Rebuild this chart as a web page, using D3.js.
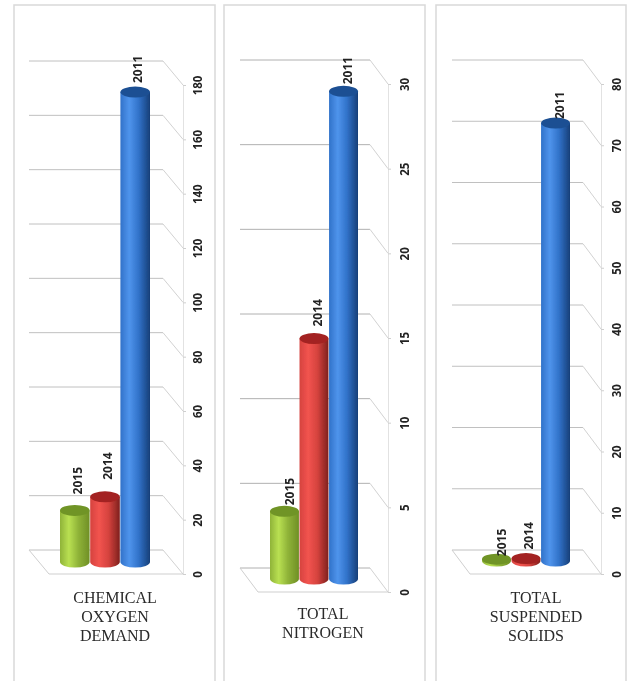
<!DOCTYPE html>
<html>
<head>
<meta charset="utf-8">
<script src="https://d3js.org/d3.v7.min.js"></script>
<style>
  html, body { margin: 0; padding: 0; background: #fff; }
  svg { display: block; }
</style>
</head>
<body>
<div id="chart"></div>
<script>
const years = ["2015", "2014", "2011"];
const codValues = [19, 24, 173];
const nitrogenValues = [4, 14.2, 28.8];
const solidsValues = [0.3, 0.4, 71.5];
const codTicks = [0, 20, 40, 60, 80, 100, 120, 140, 160, 180];
const nitrogenTicks = [0, 5, 10, 15, 20, 25, 30];
const solidsTicks = [0, 10, 20, 30, 40, 50, 60, 70, 80];
const codTitle = ["CHEMICAL", "OXYGEN", "DEMAND"];
const nitrogenTitle = ["TOTAL", "NITROGEN"];
const solidsTitle = ["TOTAL", "SUSPENDED", "SOLIDS"];

const W = 637, H = 681;
const svg = d3.select("#chart").append("svg").attr("width", W).attr("height", H);

// cylinder colours: edge, highlight, dark side, top cap
const colors = {
  "2015": ["#8fb338", "#b9e052", "#6f8f26", "#6f9425"],
  "2014": ["#d5423e", "#f2544f", "#7e201d", "#a32320"],
  "2011": ["#3172c9", "#4f94ec", "#173f78", "#1c5093"]
};
const defs = svg.append("defs");
years.forEach(y => {
  const g = defs.append("linearGradient").attr("id", "cyl" + y);
  g.append("stop").attr("offset", "0%").attr("stop-color", colors[y][0]);
  g.append("stop").attr("offset", "30%").attr("stop-color", colors[y][1]);
  g.append("stop").attr("offset", "62%").attr("stop-color", colors[y][0]);
  g.append("stop").attr("offset", "100%").attr("stop-color", colors[y][2]);
});
// the source is a soft, scanned looking picture
defs.append("filter").attr("id", "soft")
  .append("feGaussianBlur").attr("stdDeviation", 0.4);

const root = svg.append("g").attr("filter", "url(#soft)");

function drawPanel(p) {
  const g = root.append("g");

  g.append("rect")
    .attr("x", p.left).attr("y", 5)
    .attr("width", p.right - p.left).attr("height", H + 20)
    .style("fill", "#fff").style("stroke", "#d9d9d9").style("stroke-width", 1.5);

  const y = d3.scaleLinear().domain([0, p.max]).range([p.y0, p.yMax]);
  const x = d3.scaleBand().domain(p.years).range([p.barLeft, p.barRight]).paddingInner(0.02);

  // back wall gridlines and the slanted side wall lines
  p.ticks.forEach(t => {
    const yy = y(t);
    g.append("line")
      .attr("x1", p.axisX - p.depthX - p.floorW).attr("x2", p.axisX - p.depthX)
      .attr("y1", yy - p.depthY).attr("y2", yy - p.depthY)
      .style("stroke", p.gridColor).style("stroke-width", 1);
    g.append("line")
      .attr("x1", p.axisX - p.depthX).attr("x2", p.axisX)
      .attr("y1", yy - p.depthY).attr("y2", yy)
      .style("stroke", "#d2d2d2").style("stroke-width", 1);
  });

  // floor front and left edges
  g.append("line")
    .attr("x1", p.axisX - p.floorW).attr("x2", p.axisX)
    .attr("y1", y(0)).attr("y2", y(0))
    .style("stroke", "#cfcfcf");
  g.append("line")
    .attr("x1", p.axisX - p.floorW - p.depthX).attr("x2", p.axisX - p.floorW)
    .attr("y1", y(0) - p.depthY).attr("y2", y(0))
    .style("stroke", "#cfcfcf");

  // value axis, labels turned sideways
  const axis = g.append("g")
    .attr("transform", `translate(${p.axisX},0)`)
    .call(d3.axisRight(y).tickValues(p.ticks).tickSize(3).tickPadding(0));
  axis.select(".domain").style("stroke", "#e2e2e2");
  axis.selectAll(".tick line").style("stroke", "#cfcfcf");
  axis.selectAll(".tick text")
    .attr("transform", `translate(${p.labelDx},0) rotate(-90)`)
    .attr("x", 0).attr("y", 0).attr("dy", "0.35em")
    .style("text-anchor", "middle")
    .style("font-family", "'Open Sans', sans-serif")
    .style("font-size", "11.5px").style("font-weight", 700)
    .style("fill", "#222");

  // cylinders
  p.values.forEach((v, i) => {
    const yr = p.years[i];
    const rx = x.bandwidth() / 2;
    const ry = 5.5;
    const cx = x(yr) + rx;
    const bottom = y(0) - p.barLift;
    const top = y(v) - p.barLift;
    g.append("path")
      .attr("d", `M${cx - rx},${top} L${cx - rx},${bottom} A${rx},${ry} 0 0 0 ${cx + rx},${bottom} L${cx + rx},${top} Z`)
      .style("fill", `url(#cyl${yr})`);
    g.append("ellipse")
      .attr("cx", cx).attr("cy", top).attr("rx", rx).attr("ry", ry)
      .style("fill", colors[yr][3]);

    g.append("text")
      .attr("transform", `translate(${cx + p.labelShift[i]},${top - p.labelGap[i]}) rotate(-90)`)
      .attr("dy", "0.35em")
      .style("text-anchor", "start")
      .style("font-family", "'Open Sans', sans-serif")
      .style("font-size", "12px").style("font-weight", 700)
      .style("fill", "#222")
      .text(yr);
  });

  // category title
  g.append("text")
    .attr("text-anchor", "middle")
    .style("font-family", "'Liberation Serif', serif")
    .style("font-size", "16px")
    .style("fill", "#2a2a2a")
    .selectAll("tspan").data(p.title).join("tspan")
    .attr("x", p.titleX)
    .attr("y", (d, i) => p.titleY + i * 19)
    .text(d => d);
}

drawPanel({
  left: 14, right: 215, years, values: codValues, ticks: codTicks, max: 180, title: codTitle,
  y0: 574, yMax: 85, axisX: 183, floorW: 134, depthX: 20, depthY: 24, barLift: 12, gridColor: "#c0c0c0",
  barLeft: 60, barRight: 150, labelDx: 15, titleX: 115, titleY: 603,
  labelGap: [16, 17, 9], labelShift: [3, 3, 3]
});
drawPanel({
  left: 224, right: 425, years, values: nitrogenValues, ticks: nitrogenTicks, max: 30, title: nitrogenTitle,
  y0: 592, yMax: 84, axisX: 388, floorW: 130, depthX: 18, depthY: 24, barLift: 13, gridColor: "#b0b0b0",
  barLeft: 270, barRight: 358, labelDx: 17, titleX: 323, titleY: 619,
  labelGap: [6, 12, 7], labelShift: [5, 4, 4]
});
drawPanel({
  left: 436, right: 626, years, values: solidsValues, ticks: solidsTicks, max: 80, title: solidsTitle,
  y0: 574, yMax: 84, axisX: 601, floorW: 131, depthX: 18, depthY: 24, barLift: 13, gridColor: "#c0c0c0",
  barLeft: 482, barRight: 570, labelDx: 16, titleX: 536, titleY: 603,
  labelGap: [3, 9, 4], labelShift: [5, 3, 4]
});
</script>
</body>
</html>
